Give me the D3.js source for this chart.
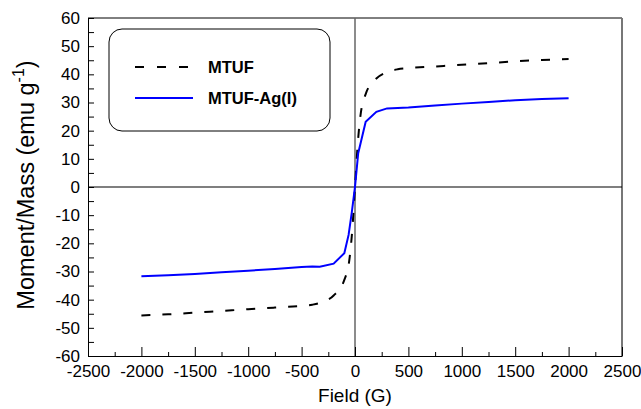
<!doctype html>
<html lang="en">
<head>
  <meta charset="utf-8" />
  <title>Moment/Mass vs Field</title>
  <script src="https://d3js.org/d3.v7.min.js"></script>
  <style>
    body { margin: 0; background: #fff; }
    text { font-family: "Liberation Sans", Arial, sans-serif; }
  </style>
</head>
<body>
  <div id="chart"></div>
  <script>
    // field values (G) and moment/mass (emu g-1)
    const fieldMTUF = [-2000, -1750, -1500, -1250, -1000, -750, -500, -400, -300, -200, -100, -50, -25, 0, 25, 50, 100, 200, 300, 400, 500, 750, 1000, 1250, 1500, 1750, 2000];
    const momentMTUF = [-45.6, -45.2, -44.6, -44.0, -43.4, -42.8, -42.2, -41.8, -40.8, -38.5, -33, -25, -15, 0, 15, 25, 33, 38.5, 40.8, 41.8, 42.2, 42.8, 43.4, 44.0, 44.6, 45.1, 45.4];

    const fieldAg = [-2000, -1750, -1500, -1250, -1000, -750, -500, -400, -330, -200, -100, -60, -30, 0, 30, 100, 200, 300, 500, 750, 1000, 1250, 1500, 1750, 2000];
    const momentAg = [-31.7, -31.3, -30.9, -30.3, -29.7, -29.1, -28.4, -28.2, -28.3, -27.2, -23.5, -17, -9, 0, 12, 23.2, 26.7, 27.9, 28.2, 28.9, 29.6, 30.2, 30.8, 31.2, 31.5];

    const seriesNames = ["MTUF", "MTUF-Ag(I)"];
    const xTicks = [-2500, -2000, -1500, -1000, -500, 0, 500, 1000, 1500, 2000, 2500];
    const yTicks = [-60, -50, -40, -30, -20, -10, 0, 10, 20, 30, 40, 50, 60];

    const width = 641, height = 409;
    const margin = { top: 18, right: 19, bottom: 53, left: 88 };

    const svg = d3.select("#chart").append("svg")
      .attr("width", width)
      .attr("height", height);

    const x = d3.scaleLinear().domain([-2500, 2500]).range([margin.left, width - margin.right]);
    const y = d3.scaleLinear().domain([-60, 60]).range([height - margin.bottom, margin.top]);

    // frame: top black, right grey
    svg.append("line")
      .attr("x1", x(-2500)).attr("x2", x(2500))
      .attr("y1", y(60)).attr("y2", y(60))
      .attr("stroke", "#000").attr("stroke-width", 1);
    svg.append("line")
      .attr("x1", x(2500)).attr("x2", x(2500))
      .attr("y1", y(60)).attr("y2", y(-60))
      .attr("stroke", "#777").attr("stroke-width", 2);

    // zero lines
    svg.append("line")
      .attr("x1", x(-2500)).attr("x2", x(2500))
      .attr("y1", y(0)).attr("y2", y(0))
      .attr("stroke", "#000").attr("stroke-width", 1.2);
    svg.append("line")
      .attr("x1", x(0)).attr("x2", x(0))
      .attr("y1", y(60)).attr("y2", y(-60))
      .attr("stroke", "#666").attr("stroke-width", 1.5);

    // minor ticks
    svg.append("g")
      .attr("transform", `translate(0,${y(-60)})`)
      .call(d3.axisBottom(x).tickValues(d3.range(-2250, 2500, 500)).tickSize(-4).tickFormat(""))
      .call(g => g.select(".domain").remove());
    svg.append("g")
      .attr("transform", `translate(${x(-2500)},0)`)
      .call(d3.axisLeft(y).tickValues(d3.range(-55, 60, 10)).tickSize(-6).tickFormat(""))
      .call(g => g.select(".domain").remove());

    // main axes
    const plain = d => String(d);
    const xAxis = svg.append("g")
      .attr("transform", `translate(0,${y(-60)})`)
      .call(d3.axisBottom(x).tickValues(xTicks).tickFormat(plain).tickSizeInner(-9).tickSizeOuter(0).tickPadding(9));
    const yAxis = svg.append("g")
      .attr("transform", `translate(${x(-2500)},0)`)
      .call(d3.axisLeft(y).tickValues(yTicks).tickFormat(plain).tickSizeInner(-6).tickSizeOuter(0).tickPadding(8));

    [xAxis, yAxis].forEach(g => {
      g.selectAll("text").style("font-size", "17px").attr("fill", "#000");
      g.selectAll("line").attr("stroke", "#000");
      g.select(".domain").attr("stroke", "#000");
    });

    // axis titles
    svg.append("text")
      .attr("x", x(0)).attr("y", 402)
      .attr("text-anchor", "middle")
      .style("font-size", "19px")
      .text("Field (G)");

    const yLabel = svg.append("text")
      .attr("transform", `translate(34,${(y(60) + y(-60)) / 2 - 2}) rotate(-90)`)
      .attr("text-anchor", "middle")
      .style("font-size", "23.5px");
    yLabel.append("tspan").text("Moment/Mass (emu g");
    yLabel.append("tspan").attr("dy", -10).style("font-size", "16px").text("-1");
    yLabel.append("tspan").attr("dy", 10).text(")");

    // curves
    const smooth = d3.line()
      .x(d => x(d[0]))
      .y(d => y(d[1]))
      .curve(d3.curveMonotoneX);
    const straight = d3.line()
      .x(d => x(d[0]))
      .y(d => y(d[1]));

    svg.append("path")
      .datum(d3.zip(fieldMTUF, momentMTUF))
      .attr("d", smooth)
      .attr("fill", "none")
      .attr("stroke", "#000")
      .attr("stroke-width", 2)
      .attr("stroke-dasharray", "9,12");

    svg.append("path")
      .datum(d3.zip(fieldAg, momentAg))
      .attr("d", straight)
      .attr("fill", "none")
      .attr("stroke", "#0000ff")
      .attr("stroke-width", 2);

    // legend
    const legendG = svg.append("g");
    legendG.append("rect")
      .attr("x", 109).attr("y", 29)
      .attr("width", 221).attr("height", 102)
      .attr("rx", 13)
      .attr("fill", "#fff")
      .attr("stroke", "#000")
      .attr("stroke-width", 1);

    const legendRows = [
      { name: seriesNames[0], color: "#000", dash: "9,13", y: 67 },
      { name: seriesNames[1], color: "#0000ff", dash: null, y: 98 }
    ];
    legendRows.forEach(r => {
      legendG.append("line")
        .attr("x1", 135).attr("x2", 193)
        .attr("y1", r.y).attr("y2", r.y)
        .attr("stroke", r.color)
        .attr("stroke-width", 2)
        .attr("stroke-dasharray", r.dash);
      legendG.append("text")
        .attr("x", 208).attr("y", r.y + 6)
        .style("font-size", "16.5px")
        .style("font-weight", "bold")
        .text(r.name);
    });
  </script>
</body>
</html>
